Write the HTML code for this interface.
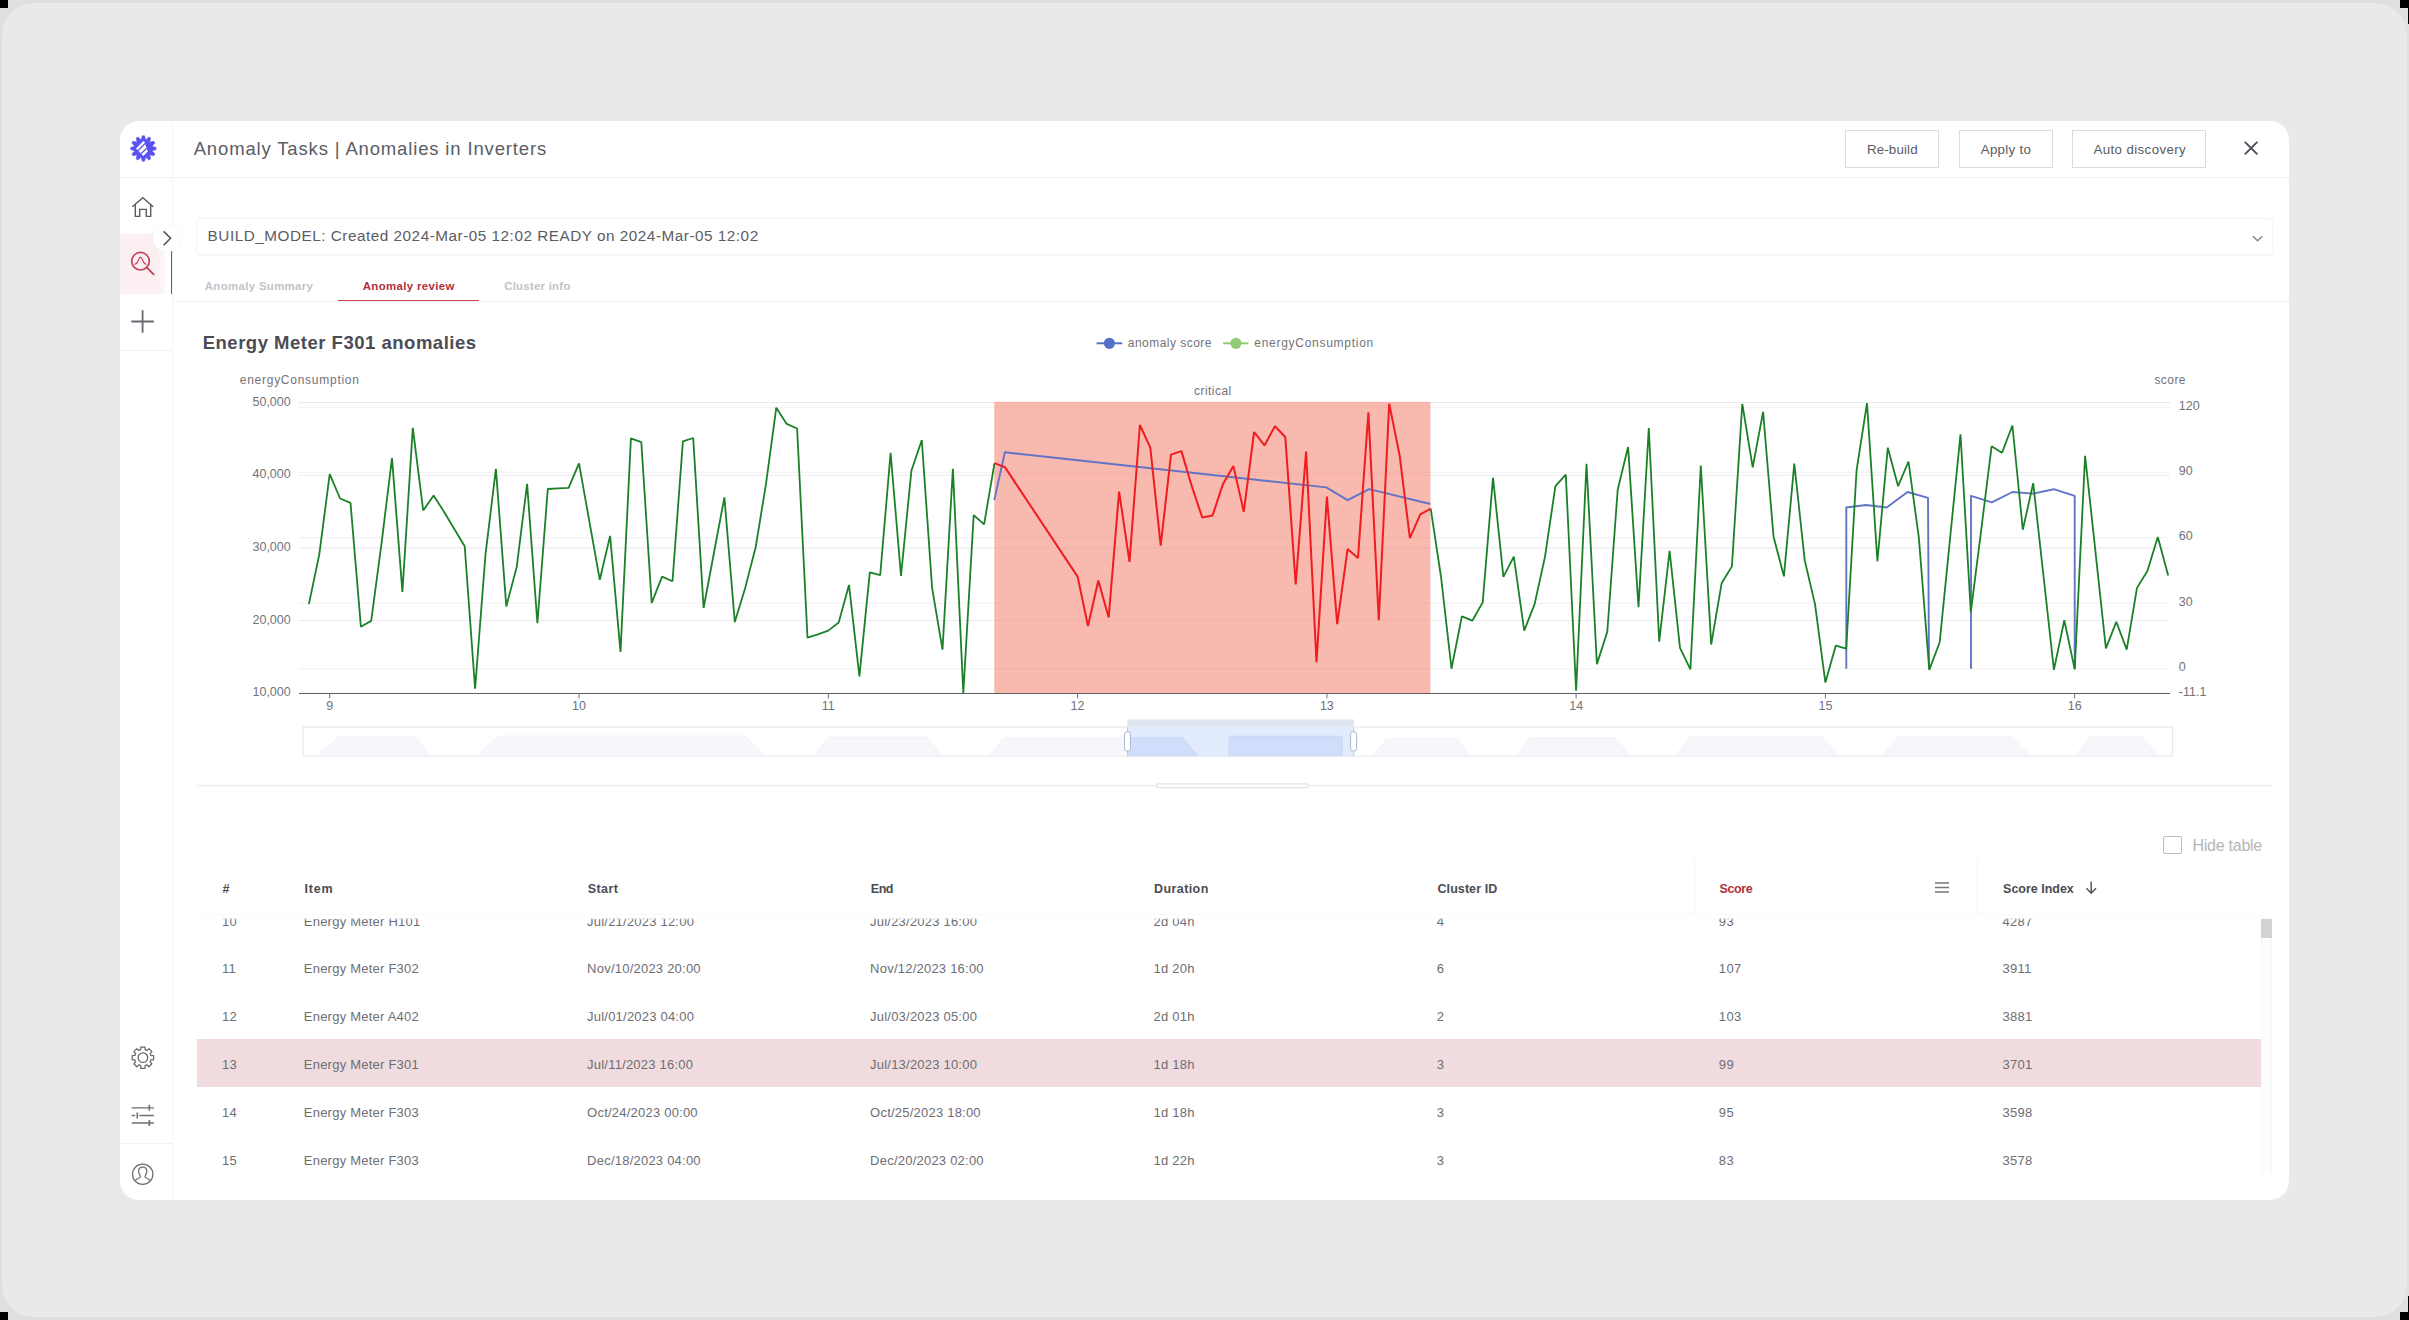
<!DOCTYPE html>
<html><head><meta charset="utf-8"><title>Anomaly Tasks</title>
<style>
*{box-sizing:border-box;margin:0;padding:0}
html,body{width:2409px;height:1320px;overflow:hidden;background:#dedfe1;font-family:"Liberation Sans",sans-serif;}
.abs{position:absolute}
.t{position:absolute;white-space:nowrap;font-family:"Liberation Sans",sans-serif;}
#frame{position:absolute;left:1.5px;top:3px;width:2405.5px;height:1314px;border-radius:32px;background:#e8e9eb;}
.blk{position:absolute;background:#000}
#panel{position:absolute;left:120px;top:121px;width:2169px;height:1079px;border-radius:19px;background:#fff;overflow:hidden;}
.btn{position:absolute;top:130px;height:38px;border:1px solid #dcdcdc;background:#fff;}
.hl{position:absolute;background:#ebebeb;height:1px}
</style></head><body>
<div id="frame"></div>
<div class="blk" style="left:0;top:0;width:8px;height:8px"></div>
<div class="blk" style="left:0;top:1312px;width:8px;height:8px"></div>
<div class="blk" style="left:2400px;top:0;width:9px;height:8px"></div>
<div class="blk" style="left:2408px;top:0;width:1px;height:24px"></div>
<div class="blk" style="left:2400px;top:1312px;width:9px;height:8px"></div>
<div class="blk" style="left:2408px;top:1296px;width:1px;height:24px"></div>
<div id="panel"></div>

<div class="abs" style="left:172px;top:121px;width:1px;height:1079px;background:#f4f4f4"></div>
<div class="abs" style="left:120px;top:177.3px;width:2169px;height:1px;background:#f1f1f1"></div>
<div class="abs" style="left:120px;top:234px;width:45px;height:60px;background:linear-gradient(90deg,#fbeff1 0,#fbeff1 80%,#fdf7f8 100%)"></div>
<div class="abs" style="left:170.8px;top:234px;width:1.6px;height:60px;background:#b13a55"></div>
<div class="abs" style="left:120px;top:350px;width:52px;height:1px;background:#f1f1f1"></div>
<div class="abs" style="left:120px;top:1143px;width:52px;height:1px;background:#f1f1f1"></div>
<div class="abs" style="left:153px;top:224px;width:28px;height:28px;border-radius:14px;background:#fff;box-shadow:0 0 3px rgba(0,0,0,0.06)"></div>
<svg class="abs" style="left:0;top:0" width="2409" height="1320" viewBox="0 0 2409 1320" fill="none">
<g transform="translate(143.4 148.5)">
<polygon points="-2.31,-8.60 -1.08,-12.65 1.08,-12.65 2.30,-8.60 5.39,-11.50 7.26,-10.42 6.29,-6.29 10.42,-7.26 11.50,-5.39 8.60,-2.31 12.65,-1.08 12.65,1.08 8.60,2.30 11.50,5.39 10.42,7.26 6.29,6.29 7.26,10.42 5.39,11.50 2.31,8.60 1.08,12.65 -1.08,12.65 -2.30,8.60 -5.39,11.50 -7.26,10.42 -6.29,6.29 -10.42,7.26 -11.50,5.39 -8.60,2.31 -12.65,1.08 -12.65,-1.08 -8.60,-2.30 -11.50,-5.39 -10.42,-7.26 -6.29,-6.29 -7.26,-10.42 -5.39,-11.50" fill="#5b50f2" stroke="#5b50f2" stroke-width="0.6" stroke-linejoin="round"/>
<clipPath id="lc"><polygon points="-7.4,0 0,-7.4 0.9,-6.9 4.4,3 0,7.4"/></clipPath>
<g clip-path="url(#lc)"><rect x="-9" y="-9" width="18" height="18" fill="#fff"/><path d="M-9 5.7 L5.7 -9 M-9 12 L12 -9" stroke="#5b50f2" stroke-width="1.3"/></g>
</g>
<g stroke="#5b5c62" stroke-width="1.4" stroke-linejoin="miter" stroke-linecap="butt">
<path d="M132.4 206.7 L142.8 197.6 L153.2 206.7"/>
<path d="M135.3 204.4 V216.4 H139.7 V209.4 H146.3 V216.4 H150.7 V204.4"/>
</g>
<path d="M163.6 231.4 L170.6 238.3 L163.6 245.2" stroke="#55565c" stroke-width="1.6"/>
<g stroke="#c4445b" stroke-linecap="round">
<circle cx="140.5" cy="261.2" r="8.8" stroke-width="1.7"/>
<path d="M146.7 267.4 L153.6 274.3" stroke-width="1.9"/>
<path d="M135 264.2 C138 264.2 138.7 257.2 140.5 257.2 C142.3 257.2 143 264.2 146 264.2" stroke-width="1.2"/>
</g>
<path d="M131.3 321.5 H153.9 M142.6 310.2 V332.8" stroke="#6a6b72" stroke-width="1.8"/>
<path d="M140.69 1049.70 L140.84 1047.00 L144.96 1047.00 L145.11 1049.70 L146.99 1050.48 L149.01 1048.68 L151.92 1051.59 L150.12 1053.61 L150.90 1055.49 L153.60 1055.64 L153.60 1059.76 L150.90 1059.91 L150.12 1061.79 L151.92 1063.81 L149.01 1066.72 L146.99 1064.92 L145.11 1065.70 L144.96 1068.40 L140.84 1068.40 L140.69 1065.70 L138.81 1064.92 L136.79 1066.72 L133.88 1063.81 L135.68 1061.79 L134.90 1059.91 L132.20 1059.76 L132.20 1055.64 L134.90 1055.49 L135.68 1053.61 L133.88 1051.59 L136.79 1048.68 L138.81 1050.48 Z" stroke="#66676d" stroke-width="1.25" stroke-linejoin="round"/>
<circle cx="142.9" cy="1057.7" r="4.8" stroke="#66676d" stroke-width="1.25"/>
<g stroke="#6e6f75" stroke-width="1.35">
<path d="M131.7 1107.8 H153.9 M131.7 1115.5 H135.2 M139.3 1115.5 H153.9 M131.7 1123 H153.9"/>
<path d="M149.3 1104.8 V1110.8 M137.3 1112.5 V1118.5 M149.3 1120 V1126" stroke-width="1.6"/>
</g>
<g stroke="#6e6f75" stroke-width="1.25">
<circle cx="142.7" cy="1174.2" r="10.2"/>
<path d="M135.2 1180.9 C136 1178.9 139.6 1178.4 140.4 1177 C140.9 1176 138.6 1174.2 138.6 1171.4 C138.6 1168.8 140.3 1167 142.7 1167 C145.1 1167 146.8 1168.8 146.8 1171.4 C146.8 1174.2 144.5 1176 145 1177 C145.8 1178.4 149.4 1178.9 150.2 1180.9"/>
</g>
<path d="M2244.8 141.8 L2257.4 154.4 M2257.4 141.8 L2244.8 154.4" stroke="#4c4d55" stroke-width="1.9"/>
<path d="M2252.9 236.3 L2257.6 240.8 L2262.3 236.3" stroke="#85868b" stroke-width="1.4"/>
<path d="M1935 883 H1949 M1935 887.5 H1949 M1935 892 H1949" stroke="#777" stroke-width="1.6"/>
<path d="M2091.2 881.5 V893.2 M2086.4 888.2 L2091.2 893.2 L2096 888.2" stroke="#55565c" stroke-width="1.5"/>
</svg>
<div class="t" style="left:193.70px;top:134.20px;font-size:18.5px;line-height:30px;color:#5b5c64;letter-spacing:0.847px;">Anomaly Tasks | Anomalies in Inverters</div>
<div class="btn" style="left:1845.3px;width:93.5px"></div>
<div class="t" style="left:1866.90px;top:138.80px;font-size:13.3px;line-height:21px;color:#5a5b61;letter-spacing:0.167px;">Re-build</div>
<div class="btn" style="left:1958.6px;width:94.6px"></div>
<div class="t" style="left:1980.70px;top:138.80px;font-size:13.3px;line-height:21px;color:#5a5b61;letter-spacing:0.321px;">Apply to</div>
<div class="btn" style="left:2072.0px;width:133.8px"></div>
<div class="t" style="left:2093.50px;top:138.80px;font-size:13.3px;line-height:21px;color:#5a5b61;letter-spacing:0.383px;">Auto discovery</div>
<div class="abs" style="left:196px;top:217.5px;width:2077px;height:37.5px;border:1px solid #f4f4f4;border-radius:4px;box-shadow:0 1px 1px rgba(0,0,0,0.03)"></div>
<div class="t" style="left:207.60px;top:224.10px;font-size:15.3px;line-height:24px;color:#5c5d63;letter-spacing:0.516px;">BUILD_MODEL: Created 2024-Mar-05 12:02 READY on 2024-Mar-05 12:02</div>
<div class="t" style="left:204.80px;top:276.60px;font-size:11.4px;line-height:18px;color:#c3c3c6;font-weight:700;letter-spacing:0.352px;">Anomaly Summary</div>
<div class="t" style="left:362.70px;top:276.60px;font-size:11.4px;line-height:18px;color:#b0303c;font-weight:700;letter-spacing:0.385px;">Anomaly review</div>
<div class="t" style="left:504.20px;top:276.60px;font-size:11.4px;line-height:18px;color:#c3c3c6;font-weight:700;letter-spacing:0.261px;">Cluster info</div>
<div class="abs" style="left:173px;top:301px;width:2116px;height:1px;background:#f1f1f1"></div>
<div class="abs" style="left:338px;top:299.6px;width:141px;height:1.6px;background:#c9494c"></div>
<div class="t" style="left:202.70px;top:328.20px;font-size:18.5px;line-height:30px;color:#4b4c54;font-weight:700;letter-spacing:0.507px;">Energy Meter F301 anomalies</div>
<svg class="abs" style="left:0;top:0" width="2409" height="1320" viewBox="0 0 2409 1320" fill="none">
<path d="M298.8 402.5 H2169.5" stroke="#ebebee" stroke-width="1.1"/>
<path d="M298.8 475.2 H2169.5" stroke="#ebebee" stroke-width="1.1"/>
<path d="M298.8 547.9 H2169.5" stroke="#ebebee" stroke-width="1.1"/>
<path d="M298.8 620.5 H2169.5" stroke="#ebebee" stroke-width="1.1"/>
<path d="M298.8 407.3 H2169.5" stroke="#f0f0f2" stroke-width="1.1"/>
<path d="M298.8 472.3 H2169.5" stroke="#f0f0f2" stroke-width="1.1"/>
<path d="M298.8 537.7 H2169.5" stroke="#f0f0f2" stroke-width="1.1"/>
<path d="M298.8 603.2 H2169.5" stroke="#f0f0f2" stroke-width="1.1"/>
<path d="M298.8 668.7 H2169.5" stroke="#f0f0f2" stroke-width="1.1"/>
<rect x="994.3" y="401.8" width="436.1" height="291.4" fill="#f8b9ae"/>
<path d="M994.3 402.5 H1430.4" stroke="#f2aea5" stroke-width="1" opacity="0.6"/>
<path d="M994.3 475.2 H1430.4" stroke="#f2aea5" stroke-width="1" opacity="0.6"/>
<path d="M994.3 547.9 H1430.4" stroke="#f2aea5" stroke-width="1" opacity="0.6"/>
<path d="M994.3 620.5 H1430.4" stroke="#f2aea5" stroke-width="1" opacity="0.6"/>
<path d="M994.3 407.3 H1430.4" stroke="#f2aea5" stroke-width="1" opacity="0.6"/>
<path d="M994.3 472.3 H1430.4" stroke="#f2aea5" stroke-width="1" opacity="0.6"/>
<path d="M994.3 537.7 H1430.4" stroke="#f2aea5" stroke-width="1" opacity="0.6"/>
<path d="M994.3 603.2 H1430.4" stroke="#f2aea5" stroke-width="1" opacity="0.6"/>
<path d="M994.3 668.7 H1430.4" stroke="#f2aea5" stroke-width="1" opacity="0.6"/>
<path d="M298.8 693.5 H2169.8" stroke="#5c5e65" stroke-width="1" shape-rendering="crispEdges"/>
<path d="M329.7 693.5 V698.4" stroke="#6e7079" stroke-width="1"/>
<path d="M579.0 693.5 V698.4" stroke="#6e7079" stroke-width="1"/>
<path d="M828.3 693.5 V698.4" stroke="#6e7079" stroke-width="1"/>
<path d="M1077.6 693.5 V698.4" stroke="#6e7079" stroke-width="1"/>
<path d="M1326.9 693.5 V698.4" stroke="#6e7079" stroke-width="1"/>
<path d="M1576.1 693.5 V698.4" stroke="#6e7079" stroke-width="1"/>
<path d="M1825.4 693.5 V698.4" stroke="#6e7079" stroke-width="1"/>
<path d="M2074.7 693.5 V698.4" stroke="#6e7079" stroke-width="1"/>
<path d="M994.3 500.1 L1004.9 452.3 L1326.3 487.4 L1347.6 500.1 L1369.2 489.2 L1430.4 504.0" stroke="#6274c6" stroke-width="1.9" stroke-linejoin="round"/>
<path d="M1846.3 668.7 L1846.3 507.5 L1865.9 505.0 L1886.7 507.5 L1907.5 492.0 L1928.0 497.8 L1929.0 668.7" stroke="#6274c6" stroke-width="1.9" stroke-linejoin="round"/>
<path d="M1971.0 668.7 L1971.0 495.9 L1991.8 502.4 L2012.5 492.0 L2033.1 493.6 L2053.7 489.2 L2074.7 495.9 L2074.7 668.7" stroke="#6274c6" stroke-width="1.9" stroke-linejoin="round"/>
<path d="M308.9 604.1 L319.3 554.4 L329.7 474.2 L340.1 498.5 L350.5 502.9 L360.9 626.7 L371.2 620.9 L381.6 542.8 L392.0 458.1 L402.4 592.0 L412.8 427.8 L423.2 510.5 L433.6 495.5 L444.0 511.7 L454.3 529.0 L464.7 546.3 L475.1 688.8 L485.5 554.4 L495.9 468.9 L506.3 606.4 L516.7 567.1 L527.1 483.9 L537.4 623.2 L547.8 489.0 L558.2 488.3 L568.6 487.9 L579.0 463.4 L589.4 521.6 L599.8 579.8 L610.1 535.9 L620.5 651.9 L630.9 438.4 L641.3 442.1 L651.7 602.9 L662.1 576.6 L672.5 581.2 L682.9 441.4 L693.2 438.0 L703.6 608.0 L714.0 552.5 L724.4 497.3 L734.8 622.1 L745.2 587.9 L755.6 547.5 L766.0 483.9 L776.3 407.7 L786.7 423.9 L797.1 428.5 L807.5 637.6 L817.9 634.3 L828.3 630.6 L838.7 622.5 L849.0 584.9 L859.4 676.4 L869.8 572.4 L880.2 575.2 L890.6 452.8 L901.0 575.9 L911.4 470.8 L921.8 440.0 L932.1 587.9 L942.5 649.6 L952.9 468.9 L963.3 693.0 L973.7 515.1 L984.1 524.4 L994.5 463.1" stroke="#1a8128" stroke-width="1.8" stroke-linejoin="bevel"/>
<path d="M1430.7 508.7 L1441.1 577.5 L1451.5 668.7 L1461.9 616.3 L1472.3 620.7 L1482.7 602.4 L1493.0 477.7 L1503.4 576.8 L1513.8 556.7 L1524.2 630.6 L1534.6 604.1 L1545.0 556.7 L1555.4 486.2 L1565.8 474.7 L1576.1 690.7 L1586.5 463.8 L1596.9 664.1 L1607.3 631.8 L1617.7 489.7 L1628.1 447.0 L1638.5 607.1 L1648.8 428.0 L1659.2 641.7 L1669.6 550.9 L1680.0 647.9 L1690.4 669.4 L1700.8 465.5 L1711.2 644.5 L1721.6 583.3 L1731.9 566.4 L1742.3 403.8 L1752.7 467.3 L1763.1 411.9 L1773.5 536.4 L1783.9 576.3 L1794.3 463.6 L1804.7 560.2 L1815.0 604.1 L1825.4 682.6 L1835.8 645.6 L1846.2 648.6 L1856.6 470.1 L1867.0 403.1 L1877.4 561.3 L1887.8 447.7 L1898.1 486.2 L1908.5 461.5 L1918.9 538.2 L1929.3 669.9 L1939.7 642.2 L1950.1 538.2 L1960.5 434.3 L1970.8 612.1 L1981.2 530.1 L1991.6 446.3 L2002.0 452.8 L2012.4 425.5 L2022.8 529.7 L2033.2 483.2 L2043.6 577.0 L2053.9 669.9 L2064.3 620.2 L2074.7 669.4 L2085.1 455.8 L2095.5 552.1 L2105.9 648.4 L2116.3 621.8 L2126.7 649.6 L2137.0 587.9 L2147.4 571.0 L2157.8 537.1 L2168.2 575.6" stroke="#1a8128" stroke-width="1.8" stroke-linejoin="bevel"/>
<path d="M994.5 463.1 L1004.9 467.1 L1077.6 576.6 L1088.0 626.0 L1098.3 580.5 L1108.7 617.5 L1119.1 491.6 L1129.5 561.8 L1139.9 425.0 L1150.3 447.7 L1160.7 545.6 L1171.0 454.6 L1181.4 451.1 L1191.8 486.2 L1202.2 517.4 L1212.6 515.4 L1223.0 483.9 L1233.4 466.1 L1243.8 511.7 L1254.1 432.0 L1264.5 445.4 L1274.9 426.2 L1285.3 437.0 L1295.7 584.4 L1306.1 451.6 L1316.5 662.3 L1326.9 496.6 L1337.2 624.2 L1347.6 549.1 L1358.0 557.9 L1368.4 412.3 L1378.8 620.2 L1389.2 403.8 L1399.6 455.1 L1409.9 538.2 L1420.3 514.4 L1430.7 508.7" stroke="#f01c1e" stroke-width="2" stroke-linejoin="bevel"/>
<path d="M1096.6 343.3 H1122.2" stroke="#5470c6" stroke-width="2"/><circle cx="1109.4" cy="343.3" r="5.6" fill="#5470c6"/>
<path d="M1223.2 343.3 H1248.4" stroke="#91cc75" stroke-width="2"/><circle cx="1235.9" cy="343.3" r="5.6" fill="#91cc75"/>
<rect x="303" y="727" width="1869.5" height="29.2" fill="#fff" stroke="#e6eaf2" stroke-width="1.2"/>
<clipPath id="selc"><rect x="1127.5" y="727" width="226.3" height="29.2"/></clipPath>
<path d="M317.0 756 L338.0 737.0 L415.5 737.0 L430.5 756 Z" fill="#f6f7fb" stroke="#f0f2f7" stroke-width="0.8" stroke-linejoin="round"/>
<path d="M477.3 756 L498.0 736.0 L745.0 736.0 L766.0 756 Z" fill="#f6f7fb" stroke="#f0f2f7" stroke-width="0.8" stroke-linejoin="round"/>
<path d="M813.8 756 L827.7 737.3 L927.4 737.3 L941.7 756 Z" fill="#f6f7fb" stroke="#f0f2f7" stroke-width="0.8" stroke-linejoin="round"/>
<path d="M989.1 756 L1004.0 737.8 L1182.5 737.8 L1198.0 756 Z" fill="#f6f7fb" stroke="#f0f2f7" stroke-width="0.8" stroke-linejoin="round"/>
<path d="M1228.9 756 L1229.2 736.2 L1342.0 736.2 L1342.1 756 Z" fill="#f6f7fb" stroke="#f0f2f7" stroke-width="0.8" stroke-linejoin="round"/>
<path d="M1373.0 756 L1387.0 738.3 L1456.6 738.3 L1470.6 756 Z" fill="#f6f7fb" stroke="#f0f2f7" stroke-width="0.8" stroke-linejoin="round"/>
<path d="M1516.6 756 L1530.0 737.5 L1615.0 737.5 L1630.5 756 Z" fill="#f6f7fb" stroke="#f0f2f7" stroke-width="0.8" stroke-linejoin="round"/>
<path d="M1675.0 756 L1690.0 736.8 L1822.0 736.8 L1838.8 756 Z" fill="#f6f7fb" stroke="#f0f2f7" stroke-width="0.8" stroke-linejoin="round"/>
<path d="M1882.0 756 L1898.0 736.8 L2012.0 736.8 L2030.4 756 Z" fill="#f6f7fb" stroke="#f0f2f7" stroke-width="0.8" stroke-linejoin="round"/>
<path d="M2075.2 756 L2090.0 737.0 L2142.0 737.0 L2159.0 756 Z" fill="#f6f7fb" stroke="#f0f2f7" stroke-width="0.8" stroke-linejoin="round"/>
<rect x="1127.5" y="727" width="226.3" height="29.2" fill="#e2ebfd"/>
<g clip-path="url(#selc)">
<path d="M317.0 756 L338.0 737.0 L415.5 737.0 L430.5 756 Z" fill="#d0defb" stroke="#c3d3f5" stroke-width="0.8"/>
<path d="M477.3 756 L498.0 736.0 L745.0 736.0 L766.0 756 Z" fill="#d0defb" stroke="#c3d3f5" stroke-width="0.8"/>
<path d="M813.8 756 L827.7 737.3 L927.4 737.3 L941.7 756 Z" fill="#d0defb" stroke="#c3d3f5" stroke-width="0.8"/>
<path d="M989.1 756 L1004.0 737.8 L1182.5 737.8 L1198.0 756 Z" fill="#d0defb" stroke="#c3d3f5" stroke-width="0.8"/>
<path d="M1228.9 756 L1229.2 736.2 L1342.0 736.2 L1342.1 756 Z" fill="#d0defb" stroke="#c3d3f5" stroke-width="0.8"/>
<path d="M1373.0 756 L1387.0 738.3 L1456.6 738.3 L1470.6 756 Z" fill="#d0defb" stroke="#c3d3f5" stroke-width="0.8"/>
<path d="M1516.6 756 L1530.0 737.5 L1615.0 737.5 L1630.5 756 Z" fill="#d0defb" stroke="#c3d3f5" stroke-width="0.8"/>
<path d="M1675.0 756 L1690.0 736.8 L1822.0 736.8 L1838.8 756 Z" fill="#d0defb" stroke="#c3d3f5" stroke-width="0.8"/>
<path d="M1882.0 756 L1898.0 736.8 L2012.0 736.8 L2030.4 756 Z" fill="#d0defb" stroke="#c3d3f5" stroke-width="0.8"/>
<path d="M2075.2 756 L2090.0 737.0 L2142.0 737.0 L2159.0 756 Z" fill="#d0defb" stroke="#c3d3f5" stroke-width="0.8"/>
</g>
<rect x="1127.5" y="719.4" width="226.3" height="7.4" fill="#e0e4ed"/>
<path d="M1127.5 727 V756.2 M1353.8 727 V756.2" stroke="#c3cde2" stroke-width="1"/>
<rect x="1124.5" y="731.8" width="6" height="19.2" rx="2.4" fill="#fff" stroke="#acb8d1" stroke-width="1"/>
<rect x="1350.6" y="731.8" width="6" height="19.2" rx="2.4" fill="#fff" stroke="#acb8d1" stroke-width="1"/>
<path d="M197 785.7 H2273.5" stroke="#ededed" stroke-width="1.2"/>
<rect x="1156.4" y="783.9" width="152.2" height="3.8" rx="1.9" fill="#fff" stroke="#dcdcdc" stroke-width="1"/>
</svg>
<div class="t" style="left:1127.80px;top:334.00px;font-size:12px;line-height:19px;color:#72737a;letter-spacing:0.473px;">anomaly score</div>
<div class="t" style="left:1254.30px;top:334.00px;font-size:12px;line-height:19px;color:#72737a;letter-spacing:0.719px;">energyConsumption</div>
<div class="t" style="left:239.75px;top:370.90px;font-size:12px;line-height:19px;color:#72737a;letter-spacing:0.738px;">energyConsumption</div>
<div class="t" style="left:2154.40px;top:370.50px;font-size:12px;line-height:19px;color:#72737a;letter-spacing:0.440px;">score</div>
<div class="t" style="left:1194.00px;top:381.50px;font-size:12px;line-height:19px;color:#72737a;letter-spacing:0.457px;">critical</div>
<div class="t" style="left:252.60px;top:391.70px;font-size:12.5px;line-height:20px;color:#72737a;letter-spacing:-0.046px;">50,000</div>
<div class="t" style="left:252.60px;top:463.60px;font-size:12.5px;line-height:20px;color:#72737a;letter-spacing:-0.046px;">40,000</div>
<div class="t" style="left:252.60px;top:536.60px;font-size:12.5px;line-height:20px;color:#72737a;letter-spacing:-0.046px;">30,000</div>
<div class="t" style="left:252.60px;top:609.50px;font-size:12.5px;line-height:20px;color:#72737a;letter-spacing:-0.046px;">20,000</div>
<div class="t" style="left:252.60px;top:681.80px;font-size:12.5px;line-height:20px;color:#72737a;letter-spacing:-0.046px;">10,000</div>
<div class="t" style="left:2178.80px;top:395.90px;font-size:12.5px;line-height:20px;color:#72737a;">120</div>
<div class="t" style="left:2178.80px;top:461.20px;font-size:12.5px;line-height:20px;color:#72737a;">90</div>
<div class="t" style="left:2178.80px;top:526.40px;font-size:12.5px;line-height:20px;color:#72737a;">60</div>
<div class="t" style="left:2178.80px;top:591.70px;font-size:12.5px;line-height:20px;color:#72737a;">30</div>
<div class="t" style="left:2178.80px;top:656.90px;font-size:12.5px;line-height:20px;color:#72737a;">0</div>
<div class="t" style="left:2178.80px;top:681.80px;font-size:12.5px;line-height:20px;color:#72737a;">-11.1</div>
<div class="t" style="left:326.22px;top:695.80px;font-size:12.5px;line-height:20px;color:#72737a;">9</div>
<div class="t" style="left:572.04px;top:695.80px;font-size:12.5px;line-height:20px;color:#72737a;">10</div>
<div class="t" style="left:821.79px;top:695.80px;font-size:12.5px;line-height:20px;color:#72737a;">11</div>
<div class="t" style="left:1070.61px;top:695.80px;font-size:12.5px;line-height:20px;color:#72737a;">12</div>
<div class="t" style="left:1319.90px;top:695.80px;font-size:12.5px;line-height:20px;color:#72737a;">13</div>
<div class="t" style="left:1569.19px;top:695.80px;font-size:12.5px;line-height:20px;color:#72737a;">14</div>
<div class="t" style="left:1818.48px;top:695.80px;font-size:12.5px;line-height:20px;color:#72737a;">15</div>
<div class="t" style="left:2067.76px;top:695.80px;font-size:12.5px;line-height:20px;color:#72737a;">16</div>
<div class="abs" style="left:2163.3px;top:835.6px;width:18.6px;height:18px;border:1px solid #bcbcbe;border-radius:2px;background:#fff"></div>
<div class="t" style="left:2192.50px;top:833.40px;font-size:16px;line-height:26px;color:#b4b5b8;letter-spacing:-0.260px;">Hide table</div>
<div class="abs" style="left:1694px;top:860px;width:1px;height:55px;background:#f3f3f3"></div>
<div class="abs" style="left:1976.5px;top:860px;width:1px;height:55px;background:#f3f3f3"></div>
<div class="t" style="left:222.50px;top:878.60px;font-size:12.5px;line-height:20px;color:#4b4c52;font-weight:700;">#</div>
<div class="t" style="left:304.50px;top:878.60px;font-size:12.5px;line-height:20px;color:#4b4c52;font-weight:700;letter-spacing:0.833px;">Item</div>
<div class="t" style="left:587.80px;top:878.60px;font-size:12.5px;line-height:20px;color:#4b4c52;font-weight:700;letter-spacing:0.380px;">Start</div>
<div class="t" style="left:870.80px;top:878.60px;font-size:12.5px;line-height:20px;color:#4b4c52;font-weight:700;letter-spacing:-0.454px;">End</div>
<div class="t" style="left:1154.10px;top:878.60px;font-size:12.5px;line-height:20px;color:#4b4c52;font-weight:700;letter-spacing:0.402px;">Duration</div>
<div class="t" style="left:1437.50px;top:878.60px;font-size:12.5px;line-height:20px;color:#4b4c52;font-weight:700;letter-spacing:0.074px;">Cluster ID</div>
<div class="t" style="left:1719.50px;top:878.60px;font-size:12.5px;line-height:20px;color:#b0303c;font-weight:700;letter-spacing:-0.385px;">Score</div>
<div class="t" style="left:2003.10px;top:878.60px;font-size:12.5px;line-height:20px;color:#4b4c52;font-weight:700;letter-spacing:-0.016px;">Score Index</div>
<div class="abs" style="left:197px;top:916.0px;width:2076px;height:272px;overflow:hidden">
<div class="abs" style="left:0;top:122.6px;width:2064px;height:48.4px;background:#f0dcdf"></div>
<div class="abs" style="left:2064px;top:0;width:11px;height:258px;background:#fdfdfd;border-left:1px solid #f8f8f8;border-right:1px solid #f6f6f6"></div>
<div class="abs" style="left:2064px;top:3px;width:11px;height:19px;background:#d2d2d4"></div>
<div class="t" style="left:24.90px;top:-5.50px;font-size:13px;line-height:21px;color:#6d6e74;letter-spacing:0.477px;">10</div>
<div class="t" style="left:106.80px;top:-5.50px;font-size:13px;line-height:21px;color:#6d6e74;letter-spacing:0.232px;">Energy Meter H101</div>
<div class="t" style="left:390.10px;top:-5.50px;font-size:13px;line-height:21px;color:#6d6e74;letter-spacing:0.213px;">Jul/21/2023 12:00</div>
<div class="t" style="left:673.10px;top:-5.50px;font-size:13px;line-height:21px;color:#6d6e74;letter-spacing:0.213px;">Jul/23/2023 16:00</div>
<div class="t" style="left:956.40px;top:-5.50px;font-size:13px;line-height:21px;color:#6d6e74;letter-spacing:0.262px;">2d 04h</div>
<div class="t" style="left:1239.80px;top:-5.50px;font-size:13px;line-height:21px;color:#6d6e74;">4</div>
<div class="t" style="left:1521.80px;top:-5.50px;font-size:13px;line-height:21px;color:#6d6e74;letter-spacing:0.477px;">93</div>
<div class="t" style="left:1805.40px;top:-5.50px;font-size:13px;line-height:21px;color:#6d6e74;letter-spacing:0.318px;">4287</div>
<div class="t" style="left:24.90px;top:42.10px;font-size:13px;line-height:21px;color:#6d6e74;letter-spacing:0.445px;">11</div>
<div class="t" style="left:106.80px;top:42.10px;font-size:13px;line-height:21px;color:#6d6e74;letter-spacing:0.229px;">Energy Meter F302</div>
<div class="t" style="left:390.10px;top:42.10px;font-size:13px;line-height:21px;color:#6d6e74;letter-spacing:0.227px;">Nov/10/2023 20:00</div>
<div class="t" style="left:673.10px;top:42.10px;font-size:13px;line-height:21px;color:#6d6e74;letter-spacing:0.227px;">Nov/12/2023 16:00</div>
<div class="t" style="left:956.40px;top:42.10px;font-size:13px;line-height:21px;color:#6d6e74;letter-spacing:0.262px;">1d 20h</div>
<div class="t" style="left:1239.80px;top:42.10px;font-size:13px;line-height:21px;color:#6d6e74;">6</div>
<div class="t" style="left:1521.80px;top:42.10px;font-size:13px;line-height:21px;color:#6d6e74;letter-spacing:0.358px;">107</div>
<div class="t" style="left:1805.40px;top:42.10px;font-size:13px;line-height:21px;color:#6d6e74;letter-spacing:0.307px;">3911</div>
<div class="t" style="left:24.90px;top:89.70px;font-size:13px;line-height:21px;color:#6d6e74;letter-spacing:0.477px;">12</div>
<div class="t" style="left:106.80px;top:89.70px;font-size:13px;line-height:21px;color:#6d6e74;letter-spacing:0.230px;">Energy Meter A402</div>
<div class="t" style="left:390.10px;top:89.70px;font-size:13px;line-height:21px;color:#6d6e74;letter-spacing:0.213px;">Jul/01/2023 04:00</div>
<div class="t" style="left:673.10px;top:89.70px;font-size:13px;line-height:21px;color:#6d6e74;letter-spacing:0.213px;">Jul/03/2023 05:00</div>
<div class="t" style="left:956.40px;top:89.70px;font-size:13px;line-height:21px;color:#6d6e74;letter-spacing:0.262px;">2d 01h</div>
<div class="t" style="left:1239.80px;top:89.70px;font-size:13px;line-height:21px;color:#6d6e74;">2</div>
<div class="t" style="left:1521.80px;top:89.70px;font-size:13px;line-height:21px;color:#6d6e74;letter-spacing:0.358px;">103</div>
<div class="t" style="left:1805.40px;top:89.70px;font-size:13px;line-height:21px;color:#6d6e74;letter-spacing:0.318px;">3881</div>
<div class="t" style="left:24.90px;top:138.40px;font-size:13px;line-height:21px;color:#6d6e74;letter-spacing:0.477px;">13</div>
<div class="t" style="left:106.80px;top:138.40px;font-size:13px;line-height:21px;color:#6d6e74;letter-spacing:0.229px;">Energy Meter F301</div>
<div class="t" style="left:390.10px;top:138.40px;font-size:13px;line-height:21px;color:#6d6e74;letter-spacing:0.211px;">Jul/11/2023 16:00</div>
<div class="t" style="left:673.10px;top:138.40px;font-size:13px;line-height:21px;color:#6d6e74;letter-spacing:0.213px;">Jul/13/2023 10:00</div>
<div class="t" style="left:956.40px;top:138.40px;font-size:13px;line-height:21px;color:#6d6e74;letter-spacing:0.262px;">1d 18h</div>
<div class="t" style="left:1239.80px;top:138.40px;font-size:13px;line-height:21px;color:#6d6e74;">3</div>
<div class="t" style="left:1521.80px;top:138.40px;font-size:13px;line-height:21px;color:#6d6e74;letter-spacing:0.477px;">99</div>
<div class="t" style="left:1805.40px;top:138.40px;font-size:13px;line-height:21px;color:#6d6e74;letter-spacing:0.318px;">3701</div>
<div class="t" style="left:24.90px;top:186.30px;font-size:13px;line-height:21px;color:#6d6e74;letter-spacing:0.477px;">14</div>
<div class="t" style="left:106.80px;top:186.30px;font-size:13px;line-height:21px;color:#6d6e74;letter-spacing:0.229px;">Energy Meter F303</div>
<div class="t" style="left:390.10px;top:186.30px;font-size:13px;line-height:21px;color:#6d6e74;letter-spacing:0.221px;">Oct/24/2023 00:00</div>
<div class="t" style="left:673.10px;top:186.30px;font-size:13px;line-height:21px;color:#6d6e74;letter-spacing:0.221px;">Oct/25/2023 18:00</div>
<div class="t" style="left:956.40px;top:186.30px;font-size:13px;line-height:21px;color:#6d6e74;letter-spacing:0.262px;">1d 18h</div>
<div class="t" style="left:1239.80px;top:186.30px;font-size:13px;line-height:21px;color:#6d6e74;">3</div>
<div class="t" style="left:1521.80px;top:186.30px;font-size:13px;line-height:21px;color:#6d6e74;letter-spacing:0.477px;">95</div>
<div class="t" style="left:1805.40px;top:186.30px;font-size:13px;line-height:21px;color:#6d6e74;letter-spacing:0.318px;">3598</div>
<div class="t" style="left:24.90px;top:234.00px;font-size:13px;line-height:21px;color:#6d6e74;letter-spacing:0.477px;">15</div>
<div class="t" style="left:106.80px;top:234.00px;font-size:13px;line-height:21px;color:#6d6e74;letter-spacing:0.229px;">Energy Meter F303</div>
<div class="t" style="left:390.10px;top:234.00px;font-size:13px;line-height:21px;color:#6d6e74;letter-spacing:0.227px;">Dec/18/2023 04:00</div>
<div class="t" style="left:673.10px;top:234.00px;font-size:13px;line-height:21px;color:#6d6e74;letter-spacing:0.227px;">Dec/20/2023 02:00</div>
<div class="t" style="left:956.40px;top:234.00px;font-size:13px;line-height:21px;color:#6d6e74;letter-spacing:0.262px;">1d 22h</div>
<div class="t" style="left:1239.80px;top:234.00px;font-size:13px;line-height:21px;color:#6d6e74;">3</div>
<div class="t" style="left:1521.80px;top:234.00px;font-size:13px;line-height:21px;color:#6d6e74;letter-spacing:0.477px;">83</div>
<div class="t" style="left:1805.40px;top:234.00px;font-size:13px;line-height:21px;color:#6d6e74;letter-spacing:0.318px;">3578</div>
</div>
<div class="abs" style="left:197px;top:914px;width:2064px;height:1px;background:#fafafa"></div>
<div class="abs" style="left:197px;top:915px;width:2064px;height:5.2px;background:linear-gradient(180deg,rgba(255,255,255,1) 0,rgba(255,255,255,1) 50%,rgba(255,255,255,0) 100%)"></div>
</body></html>
